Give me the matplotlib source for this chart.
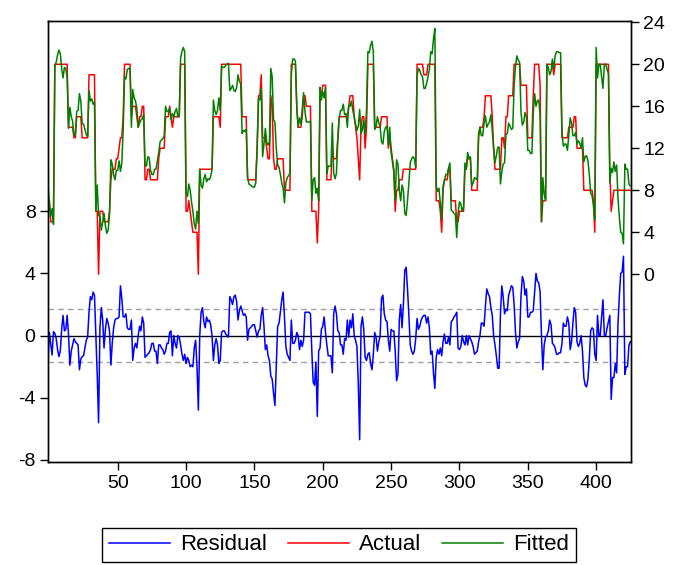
import numpy as np
import matplotlib
matplotlib.use('Agg')
import matplotlib.pyplot as plt
from matplotlib.lines import Line2D

plt.rcParams['font.family'] = ['Liberation Sans', 'DejaVu Sans']
plt.rcParams['axes.unicode_minus'] = False

# actual series (right axis), one value per observation
actual = [
    7, 7, 5, 5, 5, 20, 20, 20, 20, 20, 20, 20, 20, 20, 20, 14, 14, 14, 14, 13,
    13, 15, 15, 15, 15, 13, 13, 13, 13, 13, 19, 19, 19, 19, 19, 6, 6, 0, 6, 6,
    6, 5, 5, 5, 5, 6, 9, 10, 10, 10, 11, 11, 12, 13, 13, 15, 20, 20, 20, 20,
    20, 15, 16, 16, 16, 15, 14, 15, 15, 16, 16, 9, 9, 10, 10, 9, 9, 9, 9, 9,
    9, 11, 12, 12, 12, 12, 15, 15, 15, 16, 15, 14, 15, 15, 15, 15, 15, 20, 20, 20,
    20, 6, 6, 7, 6, 5, 4, 4, 4, 4, 0, 10, 10, 10, 10, 10, 10, 10, 10, 10,
    10, 15, 15, 15, 15, 15, 14, 20, 20, 20, 20, 20, 20, 20, 20, 20, 20, 20, 20, 20,
    20, 20, 15, 15, 15, 15, 9, 9, 9, 9, 9, 9, 9, 12, 17, 17, 19, 13, 13, 13,
    12, 11, 11, 17, 16, 11, 10, 10, 11, 11, 11, 11, 11, 8, 8, 8, 8, 8, 20, 20,
    20, 20, 16, 14, 14, 14, 15, 17, 17, 16, 16, 16, 16, 6, 6, 6, 6, 3, 6, 17,
    17, 18, 18, 18, 9, 9, 9, 9, 12, 11, 11, 11, 13, 15, 15, 15, 15, 15, 15, 15,
    16, 17, 17, 17, 15, 14, 13, 11, 9, 14, 15, 15, 12, 14, 20, 20, 20, 20, 20, 14,
    14, 14, 14, 14, 15, 15, 15, 15, 15, 12, 13, 12, 11, 10, 6, 8, 8, 9, 9, 9,
    10, 10, 10, 10, 10, 10, 10, 10, 10, 10, 20, 20, 20, 20, 20, 19, 19, 19, 20, 20,
    20, 20, 20, 20, 7, 7, 7, 6, 4, 8, 9, 9, 9, 10, 10, 7, 7, 7, 7, 5,
    5, 6, 6, 6, 6, 10, 10, 11, 11, 11, 8, 8, 8, 8, 8, 13, 14, 14, 14, 15,
    17, 17, 17, 17, 17, 15, 12, 10, 10, 10, 10, 10, 13, 13, 12, 15, 15, 17, 17, 17,
    17, 20, 20, 20, 20, 20, 18, 18, 18, 18, 18, 13, 13, 13, 13, 17, 20, 20, 20, 20,
    18, 5, 7, 7, 7, 20, 20, 20, 20, 20, 19, 20, 20, 20, 20, 20, 13, 13, 13, 13,
    13, 14, 14, 14, 14, 15, 15, 12, 12, 12, 12, 12, 8, 8, 8, 8, 8, 8, 8, 7,
    4, 20, 20, 20, 20, 20, 20, 20, 20, 20, 20, 10, 6, 7, 8, 8, 8, 8, 8, 8,
    8, 8, 8, 8, 8, 8, 8,
]

# residual series (left axis)
residual = [
    -1.6, 0.2, -0.5, -1.25, 0.25, 0.15, -0.2, -0.9, -1.35, -1.0,
    0.4, 1.3, 0.3, 0.4, 1.3, 0.1, -1.9, -1.0, -0.6, -0.2,
    -0.4, -0.5, -0.6, -2.2, -1.5, -1.35, -1.3, -0.8, -0.3, -0.1,
    1.5, 2.5, 2.3, 2.8, 2.6, 0.0, -2.5, -5.6, 0.5, 1.8,
    1.0, -0.8, 0.4, 1.1, 0.8, 0.3, -1.9, -0.5, 0.5, 1.0,
    1.1, 1.1, 1.2, 3.2, 2.4, 1.2, 1.2, 1.4, 0.5, 0.4,
    0.4, 1.0, -1.6, -0.8, -0.5, -0.8, 0.0, 0.6, 0.3, 1.2,
    0.8, -1.4, -1.3, -1.2, -1.1, -0.9, -0.5, -0.5, -1.0, -1.0,
    -1.8, -0.6, -0.6, -0.8, -0.9, -1.2, -1.0, -0.5, -0.5, 0.2,
    0.3, -1.3, 0.0, -0.5, -0.8, 0.0, -0.1, -0.6, -1.2, -1.6,
    -1.2, -1.8, -1.4, -1.6, -2.0, -1.9, -2.0, -0.8, -0.3, -2.0,
    -4.8, 0.0, 1.5, 1.8, 0.9, 0.5, 1.2, 0.9, 1.0, 0.7,
    0.0, -1.6, -0.6, -0.2, -0.6, -1.8, -1.6, 0.2, 0.3, 0.3,
    0.1, 0.0, -0.1, 2.5, 2.3, 2.0, 2.5, 2.6, 2.2, 1.0,
    1.6, 1.9, 1.6, 1.3, 1.4, 1.2, -0.3, 0.4, 0.5, 0.6,
    0.7, 0.7, 0.3, -0.1, 0.3, 0.4, 1.3, 1.8, 0.6, -0.9,
    -0.6, -1.3, -1.6, -2.6, -2.8, -3.7, -4.5, -2.0, 0.6, 0.8,
    1.5, 2.3, 2.8, 1.2, -0.7, -1.2, -1.4, -1.6, 1.0, -0.5,
    -0.5, -0.3, 0.2, 0.0, -0.9, -0.3, -0.7, -0.3, 1.5, 1.5,
    1.5, 1.5, 1.4, -1.0, -3.0, -3.2, -1.7, -5.2, -1.0, -0.8,
    0.4, 0.6, 1.2, 0.2, -0.6, -1.3, -1.3, -1.3, -2.4, 1.4,
    1.9, 1.4, 0.3, 0.2, -0.6, -0.6, -1.2, -0.2, -0.3, 1.0,
    -0.1, 1.0, 0.5, 1.4, 0.0, -0.3, -0.7, -3.1, -6.7, 0.6,
    1.2, 0.4, -1.4, -1.6, -1.2, -1.1, -1.8, -2.2, -1.2, 0.2,
    -0.1, -1.0, -0.4, 0.0, 2.4, 2.6, 1.4, 1.0, 0.9, -0.3,
    -1.0, 0.4, 0.3, 0.3, -1.0, -2.9, -2.5, 1.0, 2.0, 0.5,
    2.0, 4.2, 4.4, 3.0, 1.3, -0.6, -1.0, -1.2, -1.0, -0.2,
    1.1, 0.4, 0.6, 1.0, 1.2, 1.3, 1.3, 0.8, 1.2, 0.5,
    -1.2, -1.0, -2.4, -3.4, -1.4, -0.9, -1.2, -0.8, -1.3, -0.4,
    0.1, -0.5, -0.5, -0.1, -0.6, 0.9, 1.0, 1.2, 1.3, 1.5,
    -0.8, -0.9, -0.7, 0.0, -0.4, -0.6, 0.0, -0.6, 0.0, -0.2,
    -0.4, -0.7, -1.2, -1.1, -1.0, -0.4, 0.0, 0.8, 0.8, 0.6,
    1.9, 3.0, 2.7, 2.5, 1.8, 1.3, 0.0, -0.6, -1.3, -2.1,
    -2.1, 1.4, 3.2, 2.5, 1.4, 1.7, 1.6, 2.6, 2.9, 3.2,
    3.1, 2.0, 0.2, -0.8, -0.4, -0.2, 2.5, 3.8, 3.5, 2.6,
    3.0, 1.2, 1.2, 1.5, 1.5, 1.6, 2.8, 4.0, 3.5, 3.4,
    2.8, 0.0, -2.2, -0.6, -0.1, 0.0, 0.3, 1.0, 0.7, -0.5,
    -0.6, -0.8, -1.2, -1.2, -1.1, -1.1, -0.5, 0.8, 0.6, 0.6,
    1.2, 0.8, -0.9, -0.4, 0.8, 1.8, 1.5, -0.4, -0.7, -0.5,
    0.0, -1.0, -2.7, -3.2, -3.3, -2.8, -1.5, 0.3, 0.5, 0.4,
    -1.2, -1.6, 1.3, 0.0, 0.0, 1.2, 2.3, 0.0, 0.0, 0.5,
    0.9, 1.3, -4.1, -2.7, -2.7, -1.8, -2.4, 0.8, 2.6, 4.0,
    4.1, 5.1, -2.5, -2.0, -2.0, -0.6, -0.4,
]

se_band = 1.72
obs_start = -1

actual = np.array(actual, dtype=float)
residual = np.array(residual)
fitted = actual - residual
obs = np.arange(len(actual)) + obs_start

fig = plt.figure(figsize=(6.77, 5.65), dpi=100)
ax = fig.add_axes([48 / 677, 1 - 462 / 565, 583 / 677, 441 / 565])
ax2 = ax.twinx()

ax.axhline(0, color='black', lw=1.0)
ax.axhline(se_band, color='#a0a0a0', lw=1.0, ls=(0, (4, 3)))
ax.axhline(-se_band, color='#a0a0a0', lw=1.0, ls=(0, (4, 3)))
ax.plot(obs, residual, color='#0000ff', lw=1.1)

ax2.plot(obs, actual, color='#ff0000', lw=1.1)
ax2.plot(obs, fitted, color='#008000', lw=1.1)

ax.set_xlim(obs[0], obs[-1] + 0.5)
ax.set_ylim(-8.13, 20.23)
ax2.set_ylim(-17.88, 24.12)
ax.set_yticks([-8, -4, 0, 4, 8])
ax2.set_yticks([0, 4, 8, 12, 16, 20, 24])
ax.set_xticks([50, 100, 150, 200, 250, 300, 350, 400])

for a in (ax, ax2):
    a.tick_params(direction='out', length=6, width=1.0, labelsize=14, colors='black', pad=3)
    for s in a.spines.values():
        s.set_linewidth(1.0)

handles = [Line2D([], [], color='#0000ff', lw=1.1),
           Line2D([], [], color='#ff0000', lw=1.1),
           Line2D([], [], color='#008000', lw=1.1)]
leg = fig.legend(handles, ['Residual', 'Actual', 'Fitted'], loc='center',
                 bbox_to_anchor=(339 / 677, 1 - 545 / 565), ncol=3,
                 fancybox=False, edgecolor='black', framealpha=1,
                 fontsize=16, handlelength=2.75, columnspacing=0.95,
                 handletextpad=0.45, borderpad=0.3, borderaxespad=0)
leg.get_frame().set_linewidth(1.0)

fig.savefig('out.png', dpi=100)
